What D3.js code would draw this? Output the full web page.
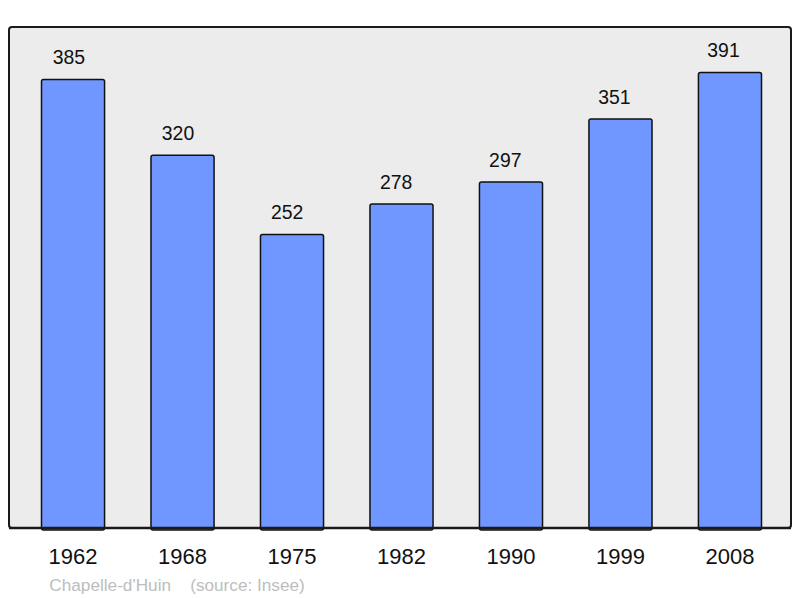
<!DOCTYPE html>
<html>
<head>
<meta charset="utf-8">
<script src="https://cdn.jsdelivr.net/npm/d3@7"></script>
<style>
html,body{margin:0;padding:0;background:#fff;}
svg{display:block;font-family:"Liberation Sans",Arial,sans-serif;}
</style>
</head>
<body>
<svg id="chart" width="800" height="598"></svg>
<script>
const years = ["1962","1968","1975","1982","1990","1999","2008"];
const population = [385, 320, 252, 278, 297, 351, 391];
const sourceText = "Chapelle-d'Huin    (source: Insee)";

const svg = d3.select("#chart");
const plot = {left: 9, right: 791, top: 27, bottom: 528};

svg.append("rect")
  .attr("x", plot.left).attr("y", plot.top)
  .attr("width", plot.right - plot.left).attr("height", plot.bottom - plot.top)
  .attr("rx", 3).attr("ry", 3)
  .attr("fill", "#ececec").attr("stroke", "#1a1a1a").attr("stroke-width", 2);

const x = d3.scaleBand().domain(years).range([41.5, 761.5]).paddingInner(0.424).paddingOuter(0);
const xLabel = d3.scalePoint().domain(years).range([68.9, 723.5]);
const y = d3.scaleLinear().domain([0, 430]).range([plot.bottom, plot.top]);

const data = years.map((yr, i) => ({year: yr, value: population[i]}));

svg.append("g").selectAll("rect").data(data).join("rect")
  .attr("x", d => x(d.year))
  .attr("y", d => y(d.value))
  .attr("width", x.bandwidth())
  .attr("height", d => y(0) - y(d.value) + 2)
  .attr("rx", 2).attr("ry", 2)
  .attr("fill", "#7096ff").attr("stroke", "#111").attr("stroke-width", 1.5);

svg.append("line")
  .attr("x1", plot.left).attr("x2", plot.right)
  .attr("y1", plot.bottom).attr("y2", plot.bottom)
  .attr("stroke", "#1a1a1a").attr("stroke-width", 2.5);

svg.append("g").selectAll("text").data(data).join("text")
  .attr("x", d => xLabel(d.year))
  .attr("y", d => y(d.value) - 15)
  .attr("text-anchor", "middle")
  .attr("font-size", "19.4px")
  .attr("fill", "#111")
  .text(d => d.value);

const xAxis = d3.axisBottom(x).tickSize(0).tickPadding(0);
const gx = svg.append("g").attr("transform", `translate(0,${plot.bottom})`).call(xAxis);
gx.select(".domain").remove();
gx.selectAll("text")
  .attr("y", 36.3).attr("dy", null)
  .attr("font-size", "22px")
  .attr("font-family", "Liberation Sans, Arial, sans-serif")
  .attr("fill", "#111");

svg.append("text")
  .attr("x", 49.3).attr("y", 590.7)
  .attr("font-size", "17.2px")
  .attr("fill", "#bdbdbd")
  .style("white-space", "pre")
  .text(sourceText);
</script>
</body>
</html>
